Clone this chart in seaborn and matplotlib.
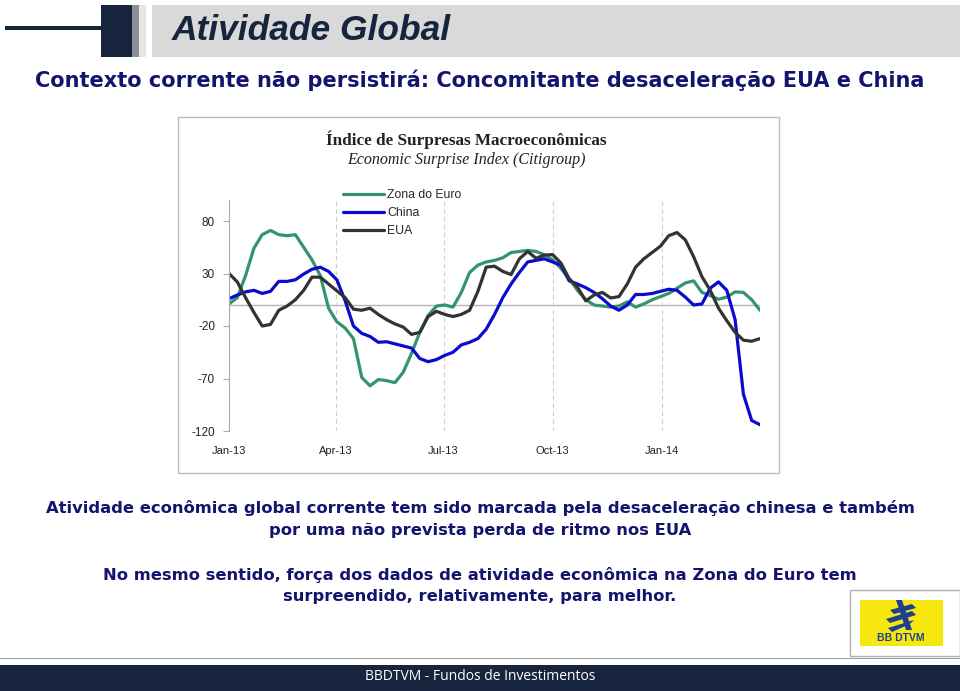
import pandas as pd
import matplotlib
matplotlib.use("Agg")
import matplotlib.pyplot as plt
from matplotlib.patches import Rectangle, Polygon
import seaborn as sns


# === Data (weekly readings, Economic Surprise Index) ===
dates = pd.date_range("2013-01-01", periods=65, freq="7D")

euro = [1, 7, 28, 54, 67, 71, 67, 66, 67, 55, 43, 28, -3, -16, -22, -32,
        -69, -77, -71, -72, -74, -64, -46, -26, -10, -1, 0, -2, 12, 31, 38,
        41, 42.5, 45, 50, 51, 52, 51, 48, 43, 35, 25, 14, 5, 0, -1, -2, -1,
        3, -2, 1, 5, 8, 11, 16, 21, 23, 12, 9, 5.5, 7.5, 12.5, 12, 5, -5]

china = [6, 9.5, 12.5, 14, 11, 13, 22.5, 22.5, 24, 29.5, 34, 36, 32, 24, 4,
         -20, -27, -30, -35.5, -35, -37, -39, -41, -51, -54, -52, -48, -45,
         -38, -35.5, -32, -23, -9, 7, 20, 31, 41, 42.5, 44, 41, 38, 23, 20,
         16.5, 12, 6, -1, -5, 0, 10, 10, 11, 13, 15, 14, 7.5, 0, 1, 16, 22,
         14, -14, -85, -110, -114]

eua = [30, 22, 7, -7, -20, -18.5, -5, -1, 5, 14, 26.5, 26.5, 20, 13.5, 7,
       -4, -5, -3, -9, -14, -18, -21, -28, -26, -11, -6, -9, -11, -9, -5,
       13, 36, 37, 32, 29, 44, 51, 44.5, 47.5, 48, 40, 25, 17, 4, 9.5, 12,
       6.7, 8, 20, 36, 44, 50, 56, 66, 69, 62, 46, 27, 14, -3, -15, -26,
       -33.5, -34.5, -32]

series_names = ["Zona do Euro", "China", "EUA"]
series_colors = ["#35956a", "#0a0ad0", "#333333"]

tick_dates = pd.to_datetime(["2013-01-01", "2013-04-01", "2013-07-01",
                             "2013-10-01", "2014-01-01"])
tick_labels = ["Jan-13", "Apr-13", "Jul-13", "Oct-13", "Jan-14"]
y_ticks = [-120, -70, -20, 30, 80]

df = pd.DataFrame({"date": dates, "Zona do Euro": euro, "China": china, "EUA": eua})
long_df = df.melt(id_vars="date", var_name="serie", value_name="valor")

W, H = 960, 691
NAVY = "#16243d"
TEXT_BLUE = "#14146e"


def fx(x):
    return x / W


def fy(y):
    return 1 - y / H


sns.set_theme(style="white")
plt.rcParams["font.family"] = ["Liberation Sans", "DejaVu Sans"]
plt.rcParams["axes.unicode_minus"] = False

fig = plt.figure(figsize=(W / 100, H / 100), dpi=100)
fig.patch.set_facecolor("white")

# === Header ===
fig.add_artist(Rectangle((fx(5), fy(29.5)), fx(97), 3 / H, transform=fig.transFigure,
                         color=NAVY, lw=0))
fig.add_artist(Rectangle((fx(101), fy(57)), fx(31), 52 / H, transform=fig.transFigure,
                         color=NAVY, lw=0))
fig.add_artist(Rectangle((fx(132), fy(57)), fx(7), 52 / H, transform=fig.transFigure,
                         color="#8c9096", lw=0))
fig.add_artist(Rectangle((fx(139), fy(57)), fx(7), 52 / H, transform=fig.transFigure,
                         color="#e6e6e6", lw=0))
fig.add_artist(Rectangle((fx(152), fy(57)), fx(808), 52 / H, transform=fig.transFigure,
                         color="#d9d9d9", lw=0))
fig.text(fx(172), fy(31), "Atividade Global", fontsize=25.5, fontweight="bold",
         fontstyle="italic", color=NAVY, ha="left", va="center",
         family=["Liberation Sans", "DejaVu Sans"])

fig.text(fx(480), fy(80), "Contexto corrente não persistirá: Concomitante desaceleração EUA e China",
         fontsize=15, fontweight="bold", color=TEXT_BLUE, ha="center", va="center",
         family=["DejaVu Sans"])

# === Chart frame ===
fig.add_artist(Rectangle((fx(178), fy(473)), fx(601), 356 / H, transform=fig.transFigure,
                         fill=False, ec="#bdbdbd", lw=1))
fig.text(fx(466), fy(140), "Índice de Surpresas Macroeconômicas", fontsize=12.3,
         fontweight="bold", color="#222222", ha="center", va="center",
         family=["Liberation Serif", "DejaVu Serif"])
fig.text(fx(466), fy(160), "Economic Surprise Index (Citigroup)", fontsize=11.5,
         fontstyle="italic", color="#222222", ha="center", va="center",
         family=["Liberation Serif", "DejaVu Serif"])

ax = fig.add_axes([fx(229), fy(431), fx(760 - 229), (431 - 200) / H])
sns.lineplot(data=long_df, x="date", y="valor", hue="serie", hue_order=series_names,
             palette=series_colors, linewidth=2.3, ax=ax, legend=False)
ax.axhline(0, color="#b5b5b5", lw=1, zorder=0)

ax.set_xlim(dates[0], dates[-1])
ax.set_ylim(-120, 100)
ax.set_yticks(y_ticks)
ax.set_xticks(tick_dates)
ax.set_xticklabels(tick_labels)
ax.set_xlabel("")
ax.set_ylabel("")
for d in tick_dates[1:]:
    ax.axvline(d, color="#cfcfcf", lw=0.8, ls=(0, (4, 3)), zorder=0)
ax.tick_params(axis="x", length=0, pad=11, labelsize=8, colors="#222222")
ax.tick_params(axis="y", length=4, width=0.8, color="#aaaaaa", pad=6,
               labelsize=8.5, colors="#222222", left=True)
for side in ["top", "right", "bottom"]:
    ax.spines[side].set_visible(False)
ax.spines["left"].set_color("#aaaaaa")
ax.spines["left"].set_linewidth(0.8)
ax.patch.set_alpha(0)

handles = [plt.Line2D([], [], color=c, lw=2.3) for c in series_colors]
fig.legend(handles, series_names, loc="upper left", bbox_to_anchor=(fx(338), fy(184)),
           frameon=False, fontsize=8.8, handlelength=3.4, handletextpad=0.2,
           labelspacing=0.5, borderaxespad=0)

# === Commentary ===
body = dict(fontsize=11.75, fontweight="bold", color=TEXT_BLUE, ha="center",
            va="center", family=["DejaVu Sans"])
fig.text(fx(480), fy(508), "Atividade econômica global corrente tem sido marcada pela "
         "desaceleração chinesa e também", **body)
fig.text(fx(480), fy(530), "por uma não prevista perda de ritmo nos EUA", **body)
fig.text(fx(480), fy(575), "No mesmo sentido, força dos dados de atividade econômica "
         "na Zona do Euro tem", **body)
fig.text(fx(480), fy(597), "surpreendido, relativamente, para melhor.", **body)

# === Logo ===
fig.add_artist(Rectangle((fx(850), fy(656)), fx(110), 66 / H, transform=fig.transFigure,
                         fc="white", ec="#b0b0b0", lw=1))
fig.add_artist(Rectangle((fx(860), fy(646)), fx(83), 46 / H, transform=fig.transFigure,
                         color="#f6e80f", lw=0))
logo_blue = "#1d3f93"
for pts in [[(890, 610), (912, 604), (916, 608), (894, 614)],
            [(886, 619), (912, 611), (916, 615), (890, 623)],
            [(888, 628), (914, 620), (910, 624), (892, 632)],
            [(896, 600), (902, 600), (912, 630), (906, 630)]]:
    fig.add_artist(Polygon([(fx(x), fy(y)) for x, y in pts], closed=True,
                           transform=fig.transFigure, color=logo_blue, lw=0))
fig.text(fx(901), fy(638), "BB DTVM", fontsize=7.5, fontweight="bold", color=logo_blue,
         ha="center", va="center")

# === Footer ===
fig.add_artist(Rectangle((0, fy(659)), 1, 1 / H, transform=fig.transFigure,
                         color="#9a9a9a", lw=0))
fig.add_artist(Rectangle((0, 0), 1, (691 - 665) / H, transform=fig.transFigure,
                         color=NAVY, lw=0))
fig.text(fx(480), fy(677), "BBDTVM - Fundos de Investimentos", fontsize=10,
         color="white", ha="center", va="center", family=["Open Sans", "DejaVu Sans"])

fig.savefig("out.png", dpi=100)
